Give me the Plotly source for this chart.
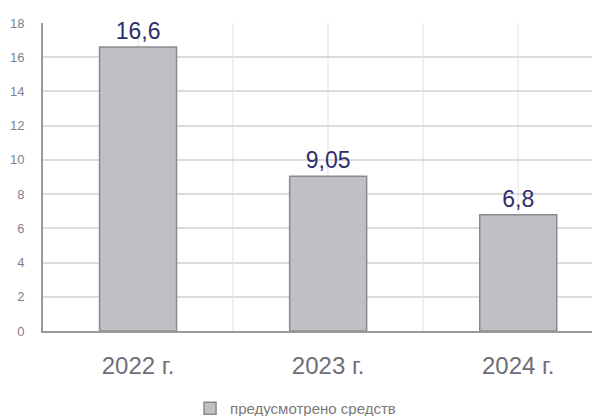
import plotly.graph_objects as go

categories = ["2022 г.", "2023 г.", "2024 г."]
values = [16.6, 9.05, 6.8]
series_name = "предусмотрено средств"
y_ticks = [0, 2, 4, 6, 8, 10, 12, 14, 16, 18]

labels = [f"{v:g}".replace(".", ",") for v in values]
xpos = list(range(len(categories)))

fig = go.Figure()
fig.add_trace(go.Bar(
    x=xpos, y=values, name=series_name,
    text=labels, textposition="outside", cliponaxis=False,
    textfont=dict(family="Liberation Sans, Arial", size=23, color="#2e2e6e"),
    marker=dict(color="#c0c0c4", line=dict(color="#8a8a8e", width=1.5)),
    width=0.405,
))

fig.update_layout(
    width=600, height=416,
    margin=dict(l=35, r=8, t=15, b=93, autoexpand=False),
    paper_bgcolor="white", plot_bgcolor="white",
    showlegend=True,
    legend=dict(orientation="h", x=0.264, xanchor="left", y=-0.198, yanchor="top",
                font=dict(family="Liberation Sans, Arial", size=15, color="#7a7a7a"),
                itemwidth=30),
    xaxis=dict(
        range=[-0.5, 2.43], tickmode="array", tickvals=xpos, ticktext=categories,
        showgrid=True, gridcolor="#f0f0f0", gridwidth=1.5,
        minor=dict(dtick=0.5, tick0=0.5, showgrid=True, gridcolor="#f0f0f0", gridwidth=1.5),
        showline=True, linecolor="#999999", linewidth=2, zeroline=False,
        ticks="", ticklabelstandoff=12, automargin=False,
        tickfont=dict(family="Liberation Sans, Arial", size=24, color="#6e6e78"),
    ),
    yaxis=dict(
        range=[0, 18], tickmode="array", tickvals=y_ticks,
        showgrid=True, gridcolor="#dcdcdc", gridwidth=1.5,
        showline=True, linecolor="#999999", linewidth=2, zeroline=False,
        ticks="", ticklabelstandoff=14, automargin=False,
        tickfont=dict(family="Liberation Sans, Arial", size=13, color="#7f7f90"),
    ),
)

fig.write_html("out.html")
